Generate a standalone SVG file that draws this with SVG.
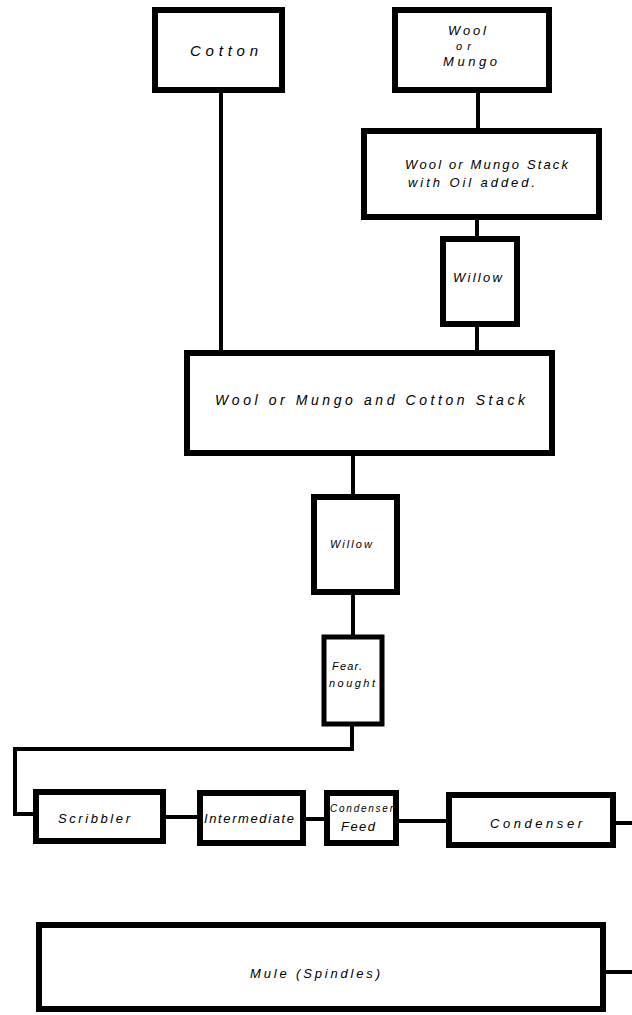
<svg xmlns="http://www.w3.org/2000/svg" width="632" height="1015" viewBox="0 0 632 1015">
<style>
.box{fill:#fff;stroke:#000;stroke-width:6}
.thin{stroke-width:5}
.con{fill:none;stroke:#000;stroke-width:4}
text{font-family:"Liberation Sans",Arial,sans-serif;font-style:italic;fill:#000;text-anchor:start}
.t15{font-size:15px}
.t14{font-size:14px}
.t13{font-size:13px}
.t11{font-size:11px}
.t10{font-size:10px}
</style>
<rect width="632" height="1015" fill="#fff"/>
<g id="connectors">
<line class="con" x1="221" y1="91" x2="221" y2="352"/>
<line class="con" x1="478" y1="91" x2="478" y2="130"/>
<line class="con" x1="477" y1="218" x2="477" y2="238"/>
<line class="con" x1="477" y1="325" x2="477" y2="352"/>
<line class="con" x1="353" y1="454" x2="353" y2="496"/>
<line class="con" x1="353" y1="593" x2="353" y2="636"/>
<polyline class="con" points="352,725 352,749 15,749 15,814 34,814"/>
<line class="con" x1="165" y1="817" x2="198" y2="817"/>
<line class="con" x1="305" y1="819" x2="325" y2="819"/>
<line class="con" x1="398" y1="821" x2="447" y2="821"/>
<line class="con" x1="615" y1="823" x2="632" y2="823"/>
<line class="con" x1="605" y1="972" x2="632" y2="972"/>
</g>
<g id="cotton">
<rect class="box" x="155" y="10" width="127" height="80"/>
<text class="t15" x="190" y="56" textLength="68" lengthAdjust="spacing">Cotton</text>
</g>
<g id="wool">
<rect class="box" x="395" y="10" width="154" height="80"/>
<text class="t13" x="448" y="35" textLength="38" lengthAdjust="spacing">Wool</text>
<text class="t11" x="456" y="50" textLength="15" lengthAdjust="spacing">or</text>
<text class="t13" x="443" y="66" textLength="54" lengthAdjust="spacing">Mungo</text>
</g>
<g id="stack-oil">
<rect class="box" x="364" y="131" width="235" height="86"/>
<text class="t13" x="405" y="169" textLength="163" lengthAdjust="spacing">Wool or Mungo Stack</text>
<text class="t13" x="408" y="187" textLength="127" lengthAdjust="spacing">with  Oil added.</text>
</g>
<g id="willow1">
<rect class="box" x="443" y="239" width="74" height="85"/>
<text class="t13" x="453" y="282" textLength="49" lengthAdjust="spacing">Willow</text>
</g>
<g id="cotton-stack">
<rect class="box" x="187" y="353" width="365" height="100"/>
<text class="t14" x="215" y="405" textLength="310" lengthAdjust="spacing">Wool  or Mungo  and  Cotton  Stack</text>
</g>
<g id="willow2">
<rect class="box" x="314" y="497" width="83" height="95"/>
<text class="t11" x="330" y="548" textLength="42" lengthAdjust="spacing">Willow</text>
</g>
<g id="fearnought">
<rect class="box thin" x="324" y="637" width="58" height="87"/>
<text class="t11" x="332" y="670" textLength="30" lengthAdjust="spacing">Fear.</text>
<text class="t11" x="329" y="687" textLength="46" lengthAdjust="spacing">nought</text>
</g>
<g id="scribbler">
<rect class="box" x="36" y="792" width="127" height="49"/>
<text class="t13" x="58" y="823" textLength="72" lengthAdjust="spacing">Scribbler</text>
</g>
<g id="intermediate">
<rect class="box" x="200" y="793" width="103" height="50"/>
<text class="t13" x="204" y="823" textLength="90" lengthAdjust="spacing">Intermediate</text>
</g>
<g id="condenser-feed">
<rect class="box" x="327" y="793" width="69" height="50"/>
<text class="t10" x="330" y="812" textLength="63" lengthAdjust="spacing">Condenser</text>
<text class="t13" x="341" y="831" textLength="34" lengthAdjust="spacing">Feed</text>
</g>
<g id="condenser">
<rect class="box" x="449" y="795" width="164" height="50"/>
<text class="t13" x="490" y="828" textLength="92" lengthAdjust="spacing">Condenser</text>
</g>
<g id="mule">
<rect class="box" x="39" y="925" width="564" height="84"/>
<text class="t13" x="250" y="978" textLength="130" lengthAdjust="spacing">Mule (Spindles)</text>
</g>
</svg>
